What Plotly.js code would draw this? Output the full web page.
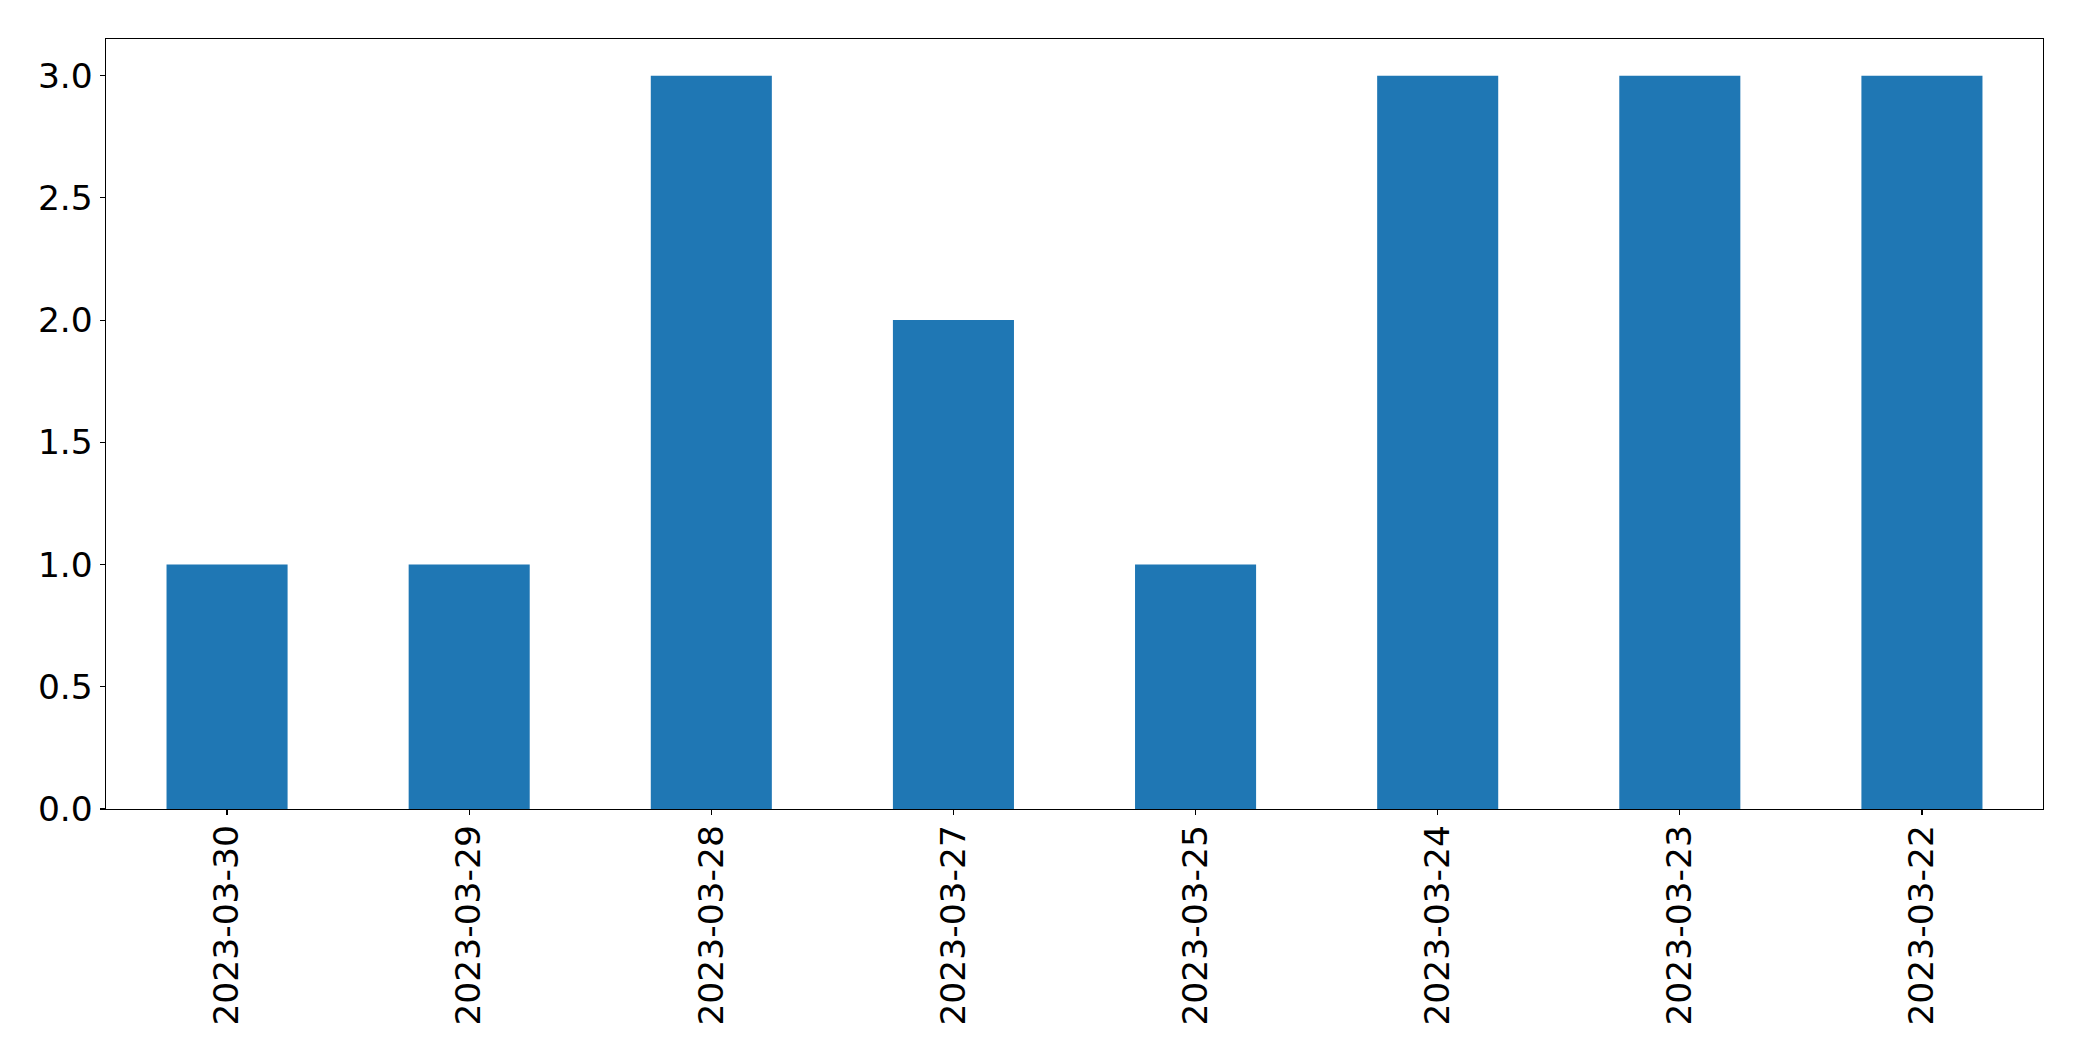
<!DOCTYPE html>
<html>
<head>
<meta charset="utf-8">
<script src="https://cdn.plot.ly/plotly-3.0.1.min.js"></script>
<style>html,body{margin:0;padding:0;background:#fff;}#chart{width:2082px;height:1061px;}</style>
</head>
<body>
<div id="chart"></div>
<script>
const dates = ["2023-03-30","2023-03-29","2023-03-28","2023-03-27","2023-03-25","2023-03-24","2023-03-23","2023-03-22"];
const counts = [1, 1, 3, 2, 1, 3, 3, 3];
const yTicks = [0, 0.5, 1, 1.5, 2, 2.5, 3];
const yTickText = ["0.0","0.5","1.0","1.5","2.0","2.5","3.0"];

const font = {family: "DejaVu Sans", size: 34.5, color: "#000"};
const trace = {
  type: "bar",
  x: dates,
  y: counts,
  marker: {color: "#1f77b4", line: {width: 0}},
  hoverinfo: "x+y"
};
const layout = {
  width: 2082, height: 1061,
  margin: {l: 105.5, r: 38.7, t: 39.3, b: 251.7, pad: 0},
  paper_bgcolor: "#fff", plot_bgcolor: "#fff",
  showlegend: false,
  bargap: 0.5,
  font: font,
  xaxis: {
    type: "category",
    range: [-0.5, 7.5],
    showline: true, linecolor: "#000", linewidth: 1.3, mirror: true,
    showgrid: false, zeroline: false,
    ticks: "outside", ticklen: 5, tickwidth: 1.2, tickcolor: "#000",
    tickangle: -90,
    ticklabelstandoff: -4,
    tickfont: font
  },
  yaxis: {
    range: [0, 3.15],
    tickmode: "array", tickvals: yTicks, ticktext: yTickText,
    showline: true, linecolor: "#000", linewidth: 1.3, mirror: true,
    showgrid: false, zeroline: false,
    ticks: "outside", ticklen: 5, tickwidth: 1.2, tickcolor: "#000",
    tickfont: font
  }
};
Plotly.newPlot("chart", [trace], layout, {displayModeBar: false, staticPlot: true});
</script>
</body>
</html>
